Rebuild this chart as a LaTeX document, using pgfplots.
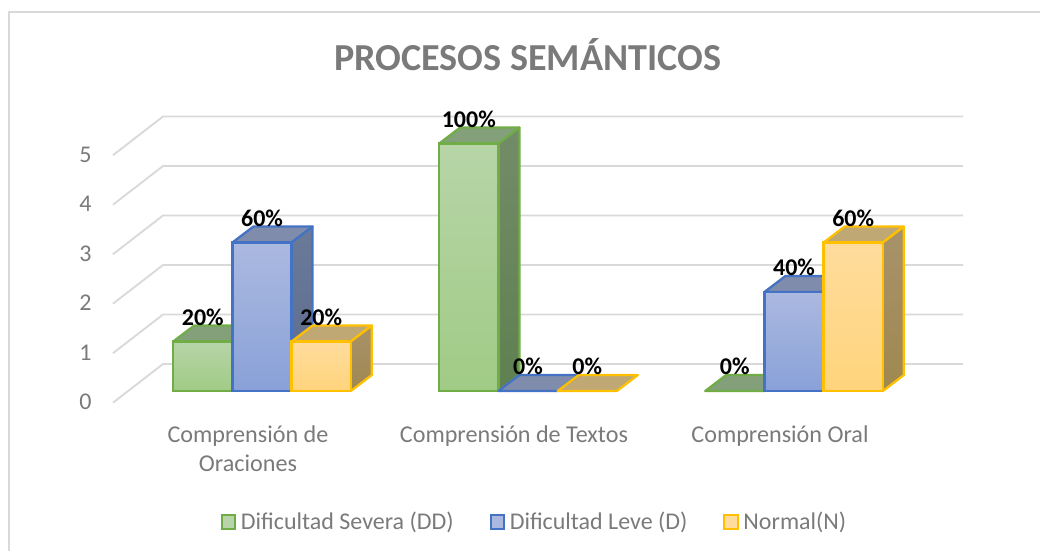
\documentclass[border=0pt]{standalone}
\usepackage{fontspec}
\setmainfont{Carlito}
\usepackage{pgfplots}
\pgfplotsset{compat=1.18}

\definecolor{rejilla}{HTML}{D9D9D9}
\definecolor{gristexto}{HTML}{7A7A7A}
\definecolor{verdeBorde}{HTML}{70AD47}
\definecolor{verdeArriba}{HTML}{B7D5A8}
\definecolor{verdeAbajo}{HTML}{A0CB85}
\definecolor{verdeTope}{HTML}{84A07A}
\definecolor{verdeLadoA}{HTML}{738C68}
\definecolor{verdeLadoB}{HTML}{5F8050}
\definecolor{azulBorde}{HTML}{4472C4}
\definecolor{azulArriba}{HTML}{ABB9E0}
\definecolor{azulAbajo}{HTML}{89A1D8}
\definecolor{azulTope}{HTML}{7F8CAB}
\definecolor{azulLadoA}{HTML}{6B7A98}
\definecolor{azulLadoB}{HTML}{5C6C90}
\definecolor{amarilloBorde}{HTML}{FFC000}
\definecolor{amarilloArriba}{HTML}{FFDC9C}
\definecolor{amarilloAbajo}{HTML}{FFD47C}
\definecolor{amarilloTope}{HTML}{C0A875}
\definecolor{amarilloLadoA}{HTML}{A8926A}
\definecolor{amarilloLadoB}{HTML}{A08850}

% barra 3D: centro x, valor, etiqueta, prefijo de color
\newcommand{\barra}[4]{%
  \pgfmathsetmacro\xi{#1-0.1113}%
  \pgfmathsetmacro\xd{#1+0.1113}%
  \pgfmathsetmacro\xia{\xi+0.0789}%
  \pgfmathsetmacro\xda{\xd+0.0789}%
  \pgfmathsetmacro\yf{#2+0.323}%
  \addplot[draw=#4Borde, fill=#4Tope, line width=1.7pt, line join=round, forget plot]
    coordinates {(\xi,#2) (\xd,#2) (\xda,\yf) (\xia,\yf)} -- cycle;
  \ifdim#2pt>0pt
    \addplot[draw=#4Borde, top color=#4LadoA, bottom color=#4LadoB, line width=1.7pt, line join=round, forget plot]
      coordinates {(\xd,0) (\xda,0.323) (\xda,\yf) (\xd,#2)} -- cycle;
    \addplot[ybar, bar width=0.2226, draw=#4Borde, top color=#4Arriba, bottom color=#4Abajo,
      line width=1.7pt, forget plot, nodes near coords={#3}]
      coordinates {(#1,#2)};
  \else
    \addplot[ybar, bar width=0.2226, draw=#4Borde, line width=1.7pt, forget plot, nodes near coords={#3}]
      coordinates {(#1,#2)};
  \fi
}

\begin{document}
\begin{tikzpicture}
  \path[use as bounding box] (0pt,0pt) rectangle (780pt,413.25pt);
  \draw[rejilla, line width=1.5pt] (6.4pt,0pt) -- (6.4pt,404.25pt) -- (780pt,404.25pt);
  \begin{axis}[
    at={(84.75pt,120pt)}, anchor=south west,
    scale only axis, width=637.5pt, height=205.725pt,
    xmin=-0.5602, xmax=2.6353,
    ymin=0, ymax=5.5414,
    clip=false,
    axis line style={draw=none},
    tick style={draw=none},
    xtick={0,1,2},
    xticklabels={{Comprensión de\\Oraciones},{Comprensión de Textos},{Comprensión Oral}},
    xticklabel style={align=center, font=\fontsize{18.1}{21.75}\selectfont, text=gristexto, xshift=-10.5pt, yshift=-22.5pt},
    ytick={0,1,2,3,4,5},
    yticklabel style={font=\fontsize{18}{21}\selectfont, text=gristexto, xshift=-12.5pt, yshift=-8.3pt},
    /pgf/number format/assume math mode=true,
    title={\textbf{PROCESOS SEMÁNTICOS}},
    title style={at={(axis description cs:0.488,1.197)}, anchor=center, font=\fontsize{28.6}{32}\selectfont, text=gristexto},
    every node near coord/.append style={font=\fontsize{18}{21}\selectfont\bfseries, text=black, yshift=8pt},
    legend style={at={(axis description cs:0.122,-0.478)}, anchor=west, draw=none, fill=none,
      legend columns=3, font=\fontsize{18}{21}\selectfont, text=gristexto,
      /tikz/every even column/.append style={column sep=25pt},
      /tikz/every odd column/.append style={column sep=1.5pt}},
    legend image code/.code={\draw[#1, line width=1.5pt] (0pt,-5pt) rectangle (10pt,5pt);},
  ]
    % rejilla: pared izquierda y pared del fondo
    \addplot[rejilla, line width=1.4pt, forget plot] coordinates {(-0.5602,-0.236) (-0.3722,0.545) (2.6353,0.545)};
    \addplot[rejilla, line width=1.4pt, forget plot] coordinates {(-0.5602,0.764) (-0.3722,1.545) (2.6353,1.545)};
    \addplot[rejilla, line width=1.4pt, forget plot] coordinates {(-0.5602,1.764) (-0.3722,2.545) (2.6353,2.545)};
    \addplot[rejilla, line width=1.4pt, forget plot] coordinates {(-0.5602,2.764) (-0.3722,3.545) (2.6353,3.545)};
    \addplot[rejilla, line width=1.4pt, forget plot] coordinates {(-0.5602,3.764) (-0.3722,4.545) (2.6353,4.545)};
    \addplot[rejilla, line width=1.4pt, forget plot] coordinates {(-0.5602,4.764) (-0.3722,5.545) (2.6353,5.545)};

    \barra{-0.2226}{1}{20\%}{verde}
    \barra{0}{3}{60\%}{azul}
    \barra{0.2226}{1}{20\%}{amarillo}
    \barra{0.7774}{5}{100\%}{verde}
    \barra{1}{0}{0\%}{azul}
    \barra{1.2226}{0}{0\%}{amarillo}
    \barra{1.7774}{0}{0\%}{verde}
    \barra{2}{2}{40\%}{azul}
    \barra{2.2226}{3}{60\%}{amarillo}

    \addlegendimage{draw=verdeBorde, fill=verdeArriba}
    \addlegendentry{Dificultad Severa (DD)}
    \addlegendimage{draw=azulBorde, fill=azulArriba}
    \addlegendentry{Dificultad Leve (D)}
    \addlegendimage{draw=amarilloBorde, fill=amarilloArriba}
    \addlegendentry{Normal(N)}
  \end{axis}
\end{tikzpicture}
\end{document}
